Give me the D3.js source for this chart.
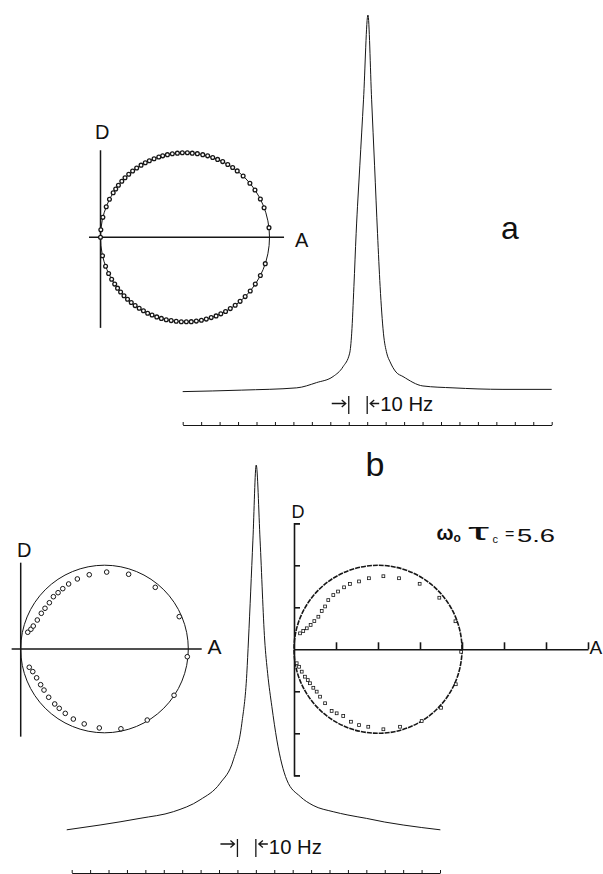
<!DOCTYPE html>
<html>
<head>
<meta charset="utf-8">
<script src="https://cdn.jsdelivr.net/npm/d3@7"></script>
<style>
  html, body { margin: 0; padding: 0; background: #fff; }
  svg { display: block; }
  text { font-family: "Liberation Sans", Arial, sans-serif; fill: #111; }
</style>
</head>
<body>
<script>
// ---------------- DATA ----------------
// Panel a: DISPA points (absorption A, dispersion D), upper and lower half
const dispaA_A = [0.997,0.968,0.946,0.914,0.884,0.844,0.809,0.782,0.753,0.723,0.693,0.664,0.634,0.605,0.573,0.543,0.514,0.484,0.455,0.425,0.396,0.368,0.345,0.317,0.289,0.265,0.240,0.214,0.190,0.167,0.145,0.126,0.106,0.090,0.075,0.053,0.034,0.014,0.002,0.000,
  0.975,0.946,0.916,0.886,0.856,0.826,0.797,0.768,0.740,0.712,0.684,0.655,0.626,0.597,0.567,0.537,0.508,0.478,0.448,0.418,0.389,0.360,0.333,0.305,0.279,0.254,0.229,0.205,0.182,0.160,0.139,0.119,0.101,0.084,0.066,0.048,0.030,0.012];
const dispaA_D = [0.057,0.175,0.227,0.280,0.320,0.363,0.393,0.413,0.431,0.448,0.461,0.472,0.482,0.489,0.495,0.498,0.500,0.500,0.498,0.494,0.489,0.482,0.475,0.465,0.453,0.441,0.427,0.410,0.392,0.373,0.352,0.332,0.308,0.286,0.264,0.225,0.181,0.118,0.045,0.000,
  -0.156,-0.226,-0.277,-0.318,-0.351,-0.379,-0.402,-0.422,-0.439,-0.453,-0.465,-0.475,-0.484,-0.491,-0.496,-0.499,-0.500,-0.500,-0.497,-0.493,-0.488,-0.480,-0.471,-0.460,-0.449,-0.435,-0.420,-0.404,-0.386,-0.367,-0.346,-0.324,-0.301,-0.277,-0.248,-0.214,-0.171,-0.109];

// Panel a: spectrum (Hz offset, intensity %)
const specA_hz  = [-100,-68.0,-38.2,-27.4,-18.5,-13.1,-9.5,-8.4,-7.2,-6.0,-4.0,-2.0,0.4,2.4,4.0,5.6,7.0,8.8,10.6,12.4,15.6,19.4,30.2,46.5,73.6,100];
const specA_int = [0.1,0.5,1.1,2.5,4.1,6.7,10.3,15.6,28.0,42.0,60.0,77.5,100,77.5,60.0,42.0,28.0,15.6,10.3,8.0,5.3,4.1,1.6,1.1,0.7,0.7];

// Panel b left: DISPA points
const dispaBL_A = [0.042,0.061,0.075,0.099,0.123,0.145,0.171,0.195,0.223,0.251,0.286,0.338,0.409,0.513,0.644,0.803,0.946,0.994,
  0.915,0.755,0.598,0.469,0.379,0.314,0.266,0.230,0.203,0.167,0.139,0.119,0.095,0.072,0.051];
const dispaBL_D = [0.100,0.118,0.137,0.173,0.213,0.243,0.276,0.312,0.336,0.360,0.388,0.418,0.443,0.459,0.446,0.368,0.193,-0.046,
  -0.276,-0.424,-0.476,-0.471,-0.447,-0.418,-0.384,-0.354,-0.328,-0.288,-0.245,-0.213,-0.172,-0.135,-0.109];

// Panel b right: DISPA points (w0*tc = 5.6)
const dispaBR_A = [0.036,0.055,0.076,0.099,0.121,0.145,0.165,0.185,0.204,0.234,0.262,0.298,0.333,0.387,0.446,0.532,0.625,0.748,0.865,0.961,0.995,
  0.016,0.030,0.046,0.065,0.082,0.095,0.115,0.135,0.155,0.185,0.224,0.254,0.293,0.339,0.387,0.442,0.532,0.631,0.760,0.875,0.963];
const dispaBR_D = [0.095,0.109,0.125,0.145,0.168,0.194,0.228,0.255,0.293,0.323,0.344,0.369,0.389,0.404,0.423,0.435,0.423,0.390,0.307,0.167,-0.015,
  -0.083,-0.104,-0.133,-0.163,-0.183,-0.202,-0.229,-0.252,-0.282,-0.321,-0.367,-0.381,-0.397,-0.431,-0.451,-0.461,-0.476,-0.461,-0.427,-0.348,-0.208];

// Panel b: spectrum
const specB_hz  = [-102.7,-84.6,-62.9,-44.8,-30.3,-19.4,-12.2,-7.6,-4.9,-4.0,-1.6,0.2,2.3,4.8,6.4,8.7,11.4,16.8,24.1,31.1,42.0,50.0,60.0,70.0,80.0,100.2];
const specB_int = [1.4,2.7,4.5,6.3,9.5,14.0,20.3,30.2,43.7,52.7,79.7,100,79.7,52.7,43.7,34.7,25.7,14.9,10.4,8.0,6.3,5.4,4.5,3.5,2.7,1.4];

// Tick values
const ticksHz = [-100,-90,-80,-70,-60,-50,-40,-30,-20,-10,0,10,20,30,40,50,60,70,80,90,100];
const ticksBR_A = [0.25,0.5,0.75,1.0,1.25,1.5,1.75];
const ticksBR_D = [-0.75,-0.5,-0.25,0.25,0.5,0.75];
const markerHz = [-10, 0];   // the "→| |← 10 Hz" bars

// ---------------- DRAW ----------------
const W = 603, H = 874;
const ink = "#161616";
const svg = d3.select("body").append("svg").attr("width", W).attr("height", H);
svg.append("rect").attr("width", W).attr("height", H).attr("fill", "#fff");

function zip(a, b) { return a.map((v, i) => [v, b[i]]); }

function dispa(x, y, opts) {
  const g = svg.append("g");
  g.append("line").attr("x1", x(0)).attr("x2", x(0))
    .attr("y1", y(opts.dTop)).attr("y2", y(opts.dBot))
    .attr("stroke", ink).attr("stroke-width", 1.5);
  g.append("line").attr("x1", x(opts.aLeft)).attr("x2", x(opts.aRight))
    .attr("y1", y(0)).attr("y2", y(0))
    .attr("stroke", ink).attr("stroke-width", 1.5);
  g.append("circle").attr("cx", x(0.5)).attr("cy", y(0))
    .attr("r", x(1) - x(0.5)).attr("fill", "none")
    .attr("stroke", ink).attr("stroke-width", 1);
  return g;
}

// ===== Panel a DISPA =====
const xa = d3.scaleLinear().domain([0, 1]).range([100.5, 269.5]);
const ya = d3.scaleLinear().domain([-0.5, 0.5]).range([321.8, 152.8]);
const ga = dispa(xa, ya, { dTop: 0.515, dBot: -0.536, aLeft: -0.068, aRight: 1.086 });
ga.selectAll("circle.pt").data(zip(dispaA_A, dispaA_D)).enter().append("circle")
  .attr("class", "pt").attr("cx", d => xa(d[0])).attr("cy", d => ya(d[1]))
  .attr("r", 1.9).attr("fill", "#fff").attr("stroke", ink).attr("stroke-width", 1.3);
svg.append("text").attr("x", 95).attr("y", 138.5).attr("font-size", 20).text("D");
svg.append("text").attr("x", 295).attr("y", 247).attr("font-size", 20).text("A");

// ===== Panel a spectrum =====
const sxa = d3.scaleLinear().domain([-100, 100]).range([182.7, 551.7]);
const sya = d3.scaleLinear().domain([0, 100]).range([392, 15]);
const specLine = (sx, sy) => d3.line().x(d => sx(d[0])).y(d => sy(d[1])).curve(d3.curveMonotoneX);
svg.append("path").datum(zip(specA_hz, specA_int)).attr("d", specLine(sxa, sya))
  .attr("fill", "none").attr("stroke", ink).attr("stroke-width", 1);
svg.append("g").attr("transform", "translate(0,425)")
  .call(d3.axisTop(sxa).tickValues(ticksHz).tickSize(3).tickSizeOuter(0).tickFormat(""))
  .call(g => g.selectAll("path,line").attr("stroke", ink).attr("stroke-width", 1));

function hzMarker(sx, yTop, yBot, yArrow, yText) {
  const g = svg.append("g").attr("stroke", ink).attr("fill", "none").attr("stroke-width", 1.3);
  const xl = sx(markerHz[0]), xr = sx(markerHz[1]);
  g.append("line").attr("x1", xl).attr("x2", xl).attr("y1", yTop).attr("y2", yBot);
  g.append("line").attr("x1", xr).attr("x2", xr).attr("y1", yTop).attr("y2", yBot);
  g.append("path").attr("d", `M${xl - 17},${yArrow}H${xl - 3}M${xl - 7},${yArrow - 3.5}L${xl - 3},${yArrow}L${xl - 7},${yArrow + 3.5}`);
  g.append("path").attr("d", `M${xr + 12},${yArrow}H${xr + 3}M${xr + 7},${yArrow - 3.5}L${xr + 3},${yArrow}L${xr + 7},${yArrow + 3.5}`);
  svg.append("text").attr("x", xr + 13).attr("y", yText).attr("font-size", 20)
    .attr("textLength", 53).attr("lengthAdjust", "spacingAndGlyphs").text("10 Hz");
}
hzMarker(sxa, 396, 414, 403.5, 411);

svg.append("text").attr("x", 510).attr("y", 238.5).attr("font-size", 32)
  .attr("text-anchor", "middle").text("a");
svg.append("text").attr("x", 375).attr("y", 476).attr("font-size", 34)
  .attr("text-anchor", "middle").text("b");

// ===== Panel b spectrum =====
const sxb = d3.scaleLinear().domain([-100, 100]).range([71.7, 440]);
const syb = d3.scaleLinear().domain([0, 100]).range([835, 465]);
svg.append("path").datum(zip(specB_hz, specB_int)).attr("d", specLine(sxb, syb))
  .attr("fill", "none").attr("stroke", ink).attr("stroke-width", 1);
svg.append("g").attr("transform", "translate(0,873)")
  .call(d3.axisTop(sxb).tickValues(ticksHz).tickSize(3).tickSizeOuter(0).tickFormat(""))
  .call(g => g.selectAll("path,line").attr("stroke", ink).attr("stroke-width", 1));
hzMarker(sxb, 839, 857, 844, 853.5);

// ===== Panel b left DISPA =====
const xbl = d3.scaleLinear().domain([0, 1]).range([20.7, 188.3]);
const ybl = d3.scaleLinear().domain([-0.5, 0.5]).range([732.8, 565.2]);
const gbl = dispa(xbl, ybl, { dTop: 0.515, dBot: -0.523, aLeft: -0.054, aRight: 1.08 });
gbl.selectAll("circle.pt").data(zip(dispaBL_A, dispaBL_D)).enter().append("circle")
  .attr("class", "pt").attr("cx", d => xbl(d[0])).attr("cy", d => ybl(d[1]))
  .attr("r", 2.3).attr("fill", "#fff").attr("stroke", ink).attr("stroke-width", 1);
svg.append("text").attr("x", 17).attr("y", 556.7).attr("font-size", 20).text("D");
svg.append("text").attr("x", 207.5).attr("y", 654).attr("font-size", 21).text("A");

// ===== Panel b right DISPA =====
const xbr = d3.scaleLinear().domain([0, 1]).range([294, 462]);
const ybr = d3.scaleLinear().domain([-0.5, 0.5]).range([733.3, 565.3]);
const gbr = svg.append("g");
gbr.append("circle").attr("cx", xbr(0.5)).attr("cy", ybr(0)).attr("r", xbr(1) - xbr(0.5))
  .attr("fill", "none").attr("stroke", ink).attr("stroke-width", 1.6).attr("stroke-dasharray", "5,1");
const yAxBR = d3.scaleLinear().domain([-0.75, 0.75]).range([ybr(-0.75), ybr(0.75)]);
const xAxBR = d3.scaleLinear().domain([0, 1.75]).range([xbr(0), xbr(1.75)]);
gbr.append("g").attr("transform", `translate(${xbr(0)},0)`)
  .call(d3.axisRight(yAxBR).tickValues(ticksBR_D).tickSize(6).tickSizeOuter(6).tickFormat(""))
  .call(g => g.selectAll("path,line").attr("stroke", ink).attr("stroke-width", 1.6));
gbr.append("g").attr("transform", `translate(0,${ybr(0)})`)
  .call(d3.axisTop(xAxBR).tickValues(ticksBR_A).tickSize(7).tickSizeOuter(0).tickFormat(""))
  .call(g => g.selectAll("path,line").attr("stroke", ink).attr("stroke-width", 1.6));
gbr.selectAll("rect.pt").data(zip(dispaBR_A, dispaBR_D)).enter().append("rect")
  .attr("class", "pt").attr("x", d => xbr(d[0]) - 1.4).attr("y", d => ybr(d[1]) - 1.4)
  .attr("width", 2.8).attr("height", 2.8).attr("fill", "#fff").attr("stroke", ink).attr("stroke-width", 0.8);
svg.append("text").attr("x", 291.5).attr("y", 518).attr("font-size", 18).text("D");
svg.append("text").attr("x", 589.5).attr("y", 654).attr("font-size", 19).text("A");

// w0 tau_c = 5.6
const lab = svg.append("g");
lab.append("text").attr("x", 436.5).attr("y", 540).attr("font-size", 21).attr("font-weight", "bold")
  .attr("font-family", "DejaVu Sans").attr("textLength", 17).attr("lengthAdjust", "spacingAndGlyphs").text("ω");
lab.append("text").attr("x", 453.5).attr("y", 542).attr("font-size", 12).attr("font-weight", "bold")
  .attr("font-family", "DejaVu Sans").text("o");
lab.append("text").attr("x", 468).attr("y", 540).attr("font-size", 24)
  .attr("font-family", "DejaVu Sans").attr("textLength", 21).attr("lengthAdjust", "spacingAndGlyphs").text("τ");
lab.append("text").attr("x", 492.5).attr("y", 542.5).attr("font-size", 11)
  .attr("font-family", "DejaVu Sans").text("c");
lab.append("text").attr("x", 505).attr("y", 539).attr("font-size", 16).text("=");
lab.append("text").attr("x", 517).attr("y", 541.5).attr("font-size", 19)
  .attr("textLength", 38).attr("lengthAdjust", "spacingAndGlyphs").text("5.6");
</script>
</body>
</html>
